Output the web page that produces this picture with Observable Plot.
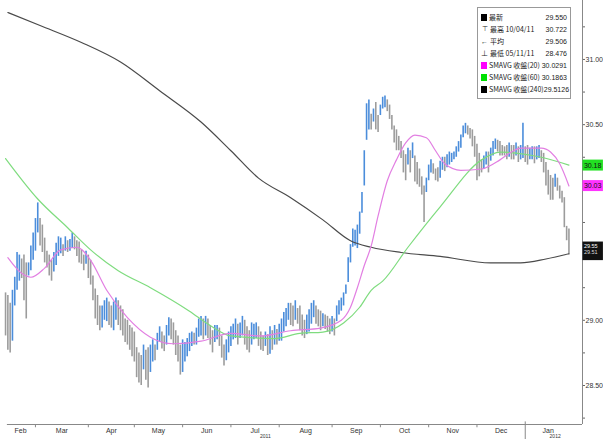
<!DOCTYPE html>
<html><head><meta charset="utf-8">
<script src="https://cdn.jsdelivr.net/npm/d3@7"></script>
<script src="https://cdn.jsdelivr.net/npm/@observablehq/plot@0.6"></script>
<style>
body{margin:0;background:#fff;}
#wrap{position:relative;width:603px;height:439px;overflow:hidden;}
#legend{position:absolute;left:477px;top:7px;width:86px;height:84px;border:1px solid #999;background:#fff;padding:3px 3px;font-family:"Liberation Sans Narrow","Liberation Sans","Noto Sans CJK TC",sans-serif;font-size:7px;color:#222;}
#legend .row{display:flex;align-items:center;height:12px;white-space:nowrap;}
#legend .ic{flex:none;display:inline-block;width:7px;text-align:center;margin-right:2px;}
#legend .sq{flex:none;display:inline-block;width:6px;height:7px;margin-right:2px;}
#legend .lb{flex:1;font-family:"Liberation Sans Narrow","Noto Sans CJK TC",sans-serif;}
#legend .vl{flex:none;text-align:right;}
</style>
</head><body>
<div id="wrap"><div id="chart"></div><div id="legend"></div></div>
<script>
// daily bar highs / lows (Feb 2011 - Jan 2012)
const highs = [29.21,29.19,29.13,29.23,29.33,29.52,29.50,29.47,29.50,29.44,29.44,29.57,29.67,29.78,29.90,29.78,29.73,29.63,29.53,29.50,
29.46,29.52,29.59,29.64,29.63,29.58,29.64,29.61,29.62,29.67,29.64,29.61,29.60,29.54,29.50,29.53,29.50,29.46,29.34,29.24,
29.19,29.11,29.11,29.15,29.17,29.14,29.11,29.14,29.17,29.15,29.11,29.08,29.01,29.00,28.96,28.94,28.91,28.79,28.75,28.73,
28.81,28.77,28.79,28.81,28.85,28.81,28.90,28.95,28.91,28.88,28.96,29.02,29.01,28.98,28.92,28.88,28.81,28.85,28.83,28.86,
28.90,28.91,28.90,28.94,29.01,29.03,29.01,29.03,29.01,28.96,28.92,28.96,28.96,28.94,28.88,28.81,28.85,28.91,28.95,28.97,
29.01,28.97,28.98,29.03,29.00,28.95,28.92,28.98,28.97,28.98,28.95,28.91,28.88,28.91,28.89,28.95,28.92,28.96,28.93,28.97,
29.01,29.06,29.09,29.13,29.13,29.11,29.15,29.09,29.11,29.04,29.00,29.04,29.08,29.13,29.15,29.11,29.08,29.07,29.05,29.04,
29.03,29.01,29.03,29.01,29.11,29.15,29.17,29.21,29.27,29.48,29.58,29.70,29.69,29.73,29.83,29.98,30.30,30.66,30.69,30.58,
30.62,30.67,30.57,30.65,30.71,30.72,30.69,30.65,30.57,30.49,30.46,30.41,30.37,30.30,30.27,30.32,30.30,30.36,30.26,30.21,
30.16,30.10,30.03,30.09,30.19,30.23,30.20,30.16,30.17,30.22,30.25,30.25,30.27,30.29,30.28,30.29,30.33,30.37,30.42,30.49,
30.51,30.49,30.47,30.46,30.41,30.35,30.28,30.23,30.26,30.29,30.29,30.32,30.37,30.39,30.38,30.37,30.34,30.33,30.34,30.36,
30.34,30.34,30.36,30.33,30.34,30.51,30.33,30.34,30.32,30.33,30.33,30.33,30.34,30.30,30.28,30.21,30.15,30.11,30.09,30.12,
30.09,30.03,29.99,29.94,29.72,29.70];
const lows = [28.88,28.77,28.75,28.84,29.11,29.23,29.30,29.32,29.15,29.01,29.34,29.38,29.46,29.53,29.67,29.57,29.52,29.44,29.40,29.34,
29.30,29.37,29.42,29.49,29.51,29.49,29.53,29.52,29.53,29.55,29.54,29.49,29.44,29.43,29.38,29.43,29.32,29.27,29.15,29.01,
28.96,28.92,28.94,29.00,28.99,28.96,28.94,28.92,29.00,28.96,28.92,28.88,28.83,28.81,28.77,28.72,28.68,28.56,28.52,28.50,
28.62,28.54,28.48,28.60,28.68,28.69,28.77,28.83,28.78,28.76,28.81,28.88,28.85,28.81,28.73,28.68,28.58,28.60,28.68,28.72,
28.76,28.80,28.81,28.81,28.87,28.88,28.85,28.88,28.86,28.81,28.75,28.83,28.85,28.80,28.71,28.65,28.69,28.75,28.80,28.85,
28.86,28.81,28.86,28.88,28.81,28.77,28.75,28.81,28.85,28.86,28.80,28.77,28.76,28.80,28.73,28.74,28.77,28.81,28.81,28.84,
28.84,28.91,28.95,29.00,28.96,28.95,29.00,28.97,28.92,28.88,28.86,28.89,28.91,28.97,29.02,28.97,28.95,28.92,28.95,28.93,
28.91,28.89,28.91,28.88,28.99,29.04,29.07,29.11,29.20,29.29,29.44,29.56,29.57,29.55,29.66,29.82,30.03,30.38,30.46,30.46,
30.52,30.46,30.44,30.57,30.62,30.63,30.60,30.54,30.46,30.36,30.30,30.30,30.24,30.13,30.07,30.19,30.13,30.24,30.06,30.04,
30.02,29.96,29.75,29.98,30.07,30.13,30.12,30.07,30.06,30.09,30.15,30.14,30.17,30.19,30.21,30.23,30.25,30.29,30.32,30.40,
30.43,30.42,30.39,30.33,30.25,30.07,30.10,30.13,30.16,30.19,30.13,30.22,30.26,30.31,30.29,30.26,30.26,30.26,30.23,30.25,
30.23,30.23,30.26,30.21,30.23,30.24,30.21,30.19,30.23,30.23,30.20,30.23,30.24,30.21,30.13,30.03,29.96,29.92,29.92,30.02,
29.99,29.93,29.90,29.71,29.61,29.50];

// moving averages (bar index, value)
const sma20Idx = [1,7,11,17,24,31,37,44,53,63,73,85,98,111,124,137,146,150,153,156,159,162,166,170,174,178,183,187,191,198,207,215,220,224,233,237,241,245];
const sma20Val = [29.48,29.36,29.33,29.40,29.54,29.56,29.46,29.23,29.02,28.87,28.82,28.84,28.90,28.88,28.92,28.94,29.00,29.10,29.25,29.42,29.57,29.80,30.07,30.23,30.36,30.42,30.40,30.30,30.20,30.15,30.16,30.23,30.29,30.32,30.32,30.29,30.20,30.03];
const sma60Idx = [0,14,27,37,49,63,80,89,98,117,128,138,147,154,159,164,175,189,207,215,233,245];
const sma60Val = [30.24,29.93,29.71,29.54,29.38,29.25,29.07,28.96,28.88,28.86,28.90,28.91,28.98,29.10,29.23,29.30,29.56,29.87,30.23,30.29,30.25,30.19];
const sma240Idx = [1,15,33,50,67,85,98,110,124,138,150,159,172,189,211,224,235,245];
const sma240Val = [31.36,31.26,31.13,30.98,30.76,30.52,30.30,30.09,29.94,29.77,29.61,29.56,29.52,29.49,29.44,29.44,29.47,29.51];

// month boundaries (bar index) and labels
const monthStarts = [0,13,36,56,77,98,119,142,163,184,205,226,246];
const monthLabels = ["Feb","Mar","Apr","May","Jun","Jul","Aug","Sep","Oct","Nov","Dec","Jan"];
const yearLabels = ["2011","2012"];
const yTicks = [28.25,28.5,28.75,29,29.25,29.5,29.75,30,30.25,30.5,30.75,31,31.25];
const yLabeled = [28.5,29,30.5,31];

// right-side value tags
const tagValues = [30.1863,30.0291];
const tagLabels = ["30.18","30.03"];
const tagColors = ["#22e022","#ff33ff"];
const lastPrice = 29.550, lastLabel = "29.55";
const sma240Last = 29.5126, sma240Label = "29.51";

// legend
const legendIcons = ["■","⊤","←","⊥","■","■","■"];
const legendNames = ["最新","最高 10/04/11","平均","最低 05/11/11","SMAVG 收盤(20)","SMAVG 收盤(60)","SMAVG 收盤(240)"];
const legendVals = ["29.550","30.722","29.506","28.476","30.0291","30.1863","29.5126"];
const legendColors = ["#000","#222","#222","#222","#ff00ff","#00e000","#000"];

const bars = highs.map((h,i)=>({i, high:h, low:lows[i],
  up: i>0 && (h+lows[i]) > (highs[i-1]+lows[i-1])}));
const s20 = sma20Idx.map((x,k)=>({x, y:sma20Val[k]}));
const s60 = sma60Idx.map((x,k)=>({x, y:sma60Val[k]}));
const s240 = sma240Idx.map((x,k)=>({x, y:sma240Val[k]}));
const months = monthLabels.map((m,k)=>({m, x:(monthStarts[k]+monthStarts[k+1])/2}));
const years = [{t:yearLabels[0], x:(monthStarts[0]+monthStarts[11])/2},{t:yearLabels[1], x:(monthStarts[11]+monthStarts[12])/2+3}];
const tags = tagValues.map((v,k)=>({v, t:tagLabels[k], c:tagColors[k]}));

const xMin=-2.2, xMax=250.9, yMin=28.201, yMax=31.452;
const grey="#9c9c9c", blue="#4b8ddb";

const chart = Plot.plot({
  width:603, height:439, marginLeft:0, marginRight:21, marginTop:0, marginBottom:15,
  x:{type:"linear", domain:[xMin,xMax], axis:null},
  y:{type:"linear", domain:[yMin,yMax], axis:null},
  style:{fontFamily:"'Liberation Sans Narrow','Liberation Sans',sans-serif", fontSize:"7px", background:"#fff", overflow:"visible"},
  marks:[
    Plot.ruleX(bars,{x:"i", y1:"low", y2:"high", stroke:d=>d.up?blue:grey, strokeWidth:1.6}),
    Plot.line(s240,{x:"x", y:"y", stroke:"#4a4a4a", strokeWidth:1.2, curve:"monotone-x"}),
    Plot.line(s60,{x:"x", y:"y", stroke:"#7fdc7f", strokeWidth:1.2, curve:"monotone-x"}),
    Plot.line(s20,{x:"x", y:"y", stroke:"#e27fe2", strokeWidth:1.2, curve:"monotone-x"}),
    Plot.ruleY([yMin],{x1:0.8, x2:xMax, stroke:"#888"}),
    Plot.ruleX([xMax],{y1:yMin, y2:yMax, stroke:"#888"}),
    Plot.ruleX(monthStarts.slice(1,11),{x:d=>d, y1:yMin, y2:yMin-0.025, stroke:"#888"}),
    Plot.ruleX([monthStarts[11]],{y1:yMin+0.02, y2:yMin-0.12, stroke:"#888"}),
    Plot.text(months,{x:"x", y:yMin, dy:6, text:"m", fill:"#333", fontSize:7}),
    Plot.text(years,{x:"x", y:yMin, dy:9.5, text:"t", fill:"#333", fontSize:5, lineAnchor:"top"}),
    Plot.axisY({anchor:"right", ticks:yTicks, tickSize:2, tickPadding:1, stroke:"#666",
      tickFormat:d=>yLabeled.includes(d)?d.toFixed(2):"", fill:"#333", fontSize:7}),
    Plot.rect(tags,{x1:xMax+0.2, x2:260, y1:d=>d.v-0.042, y2:d=>d.v+0.042, fill:"c"}),
    Plot.rect([lastPrice],{x1:xMax+0.2, x2:260, y1:sma240Last-0.055, y2:lastPrice+0.05, fill:"#111"}),
    Plot.text(tags,{x:xMax+0.6, y:"v", text:"t", fill:"#111", textAnchor:"start", fontSize:7}),
    Plot.text([lastLabel],{x:xMax+0.6, y:lastPrice, dy:-2.5, text:d=>d, fill:"#fff", textAnchor:"start", fontSize:5.5}),
    Plot.text([sma240Label],{x:xMax+0.6, y:lastPrice, dy:3.5, text:d=>d, fill:"#ddd", textAnchor:"start", fontSize:5.5})
  ]
});
document.getElementById("chart").appendChild(chart);

const lg = document.getElementById("legend");
legendNames.forEach((n,k)=>{
  const r = document.createElement("div"); r.className="row";
  const ic = document.createElement("span");
  if (k===0 || k>=4){ ic.className="sq"; ic.style.background=legendColors[k]; }
  else { ic.className="ic"; ic.textContent=legendIcons[k]; }
  const lb = document.createElement("span"); lb.className="lb"; lb.textContent=n;
  const vl = document.createElement("span"); vl.className="vl"; vl.textContent=legendVals[k];
  r.appendChild(ic); r.appendChild(lb); r.appendChild(vl); lg.appendChild(r);
});
</script>
</body></html>
